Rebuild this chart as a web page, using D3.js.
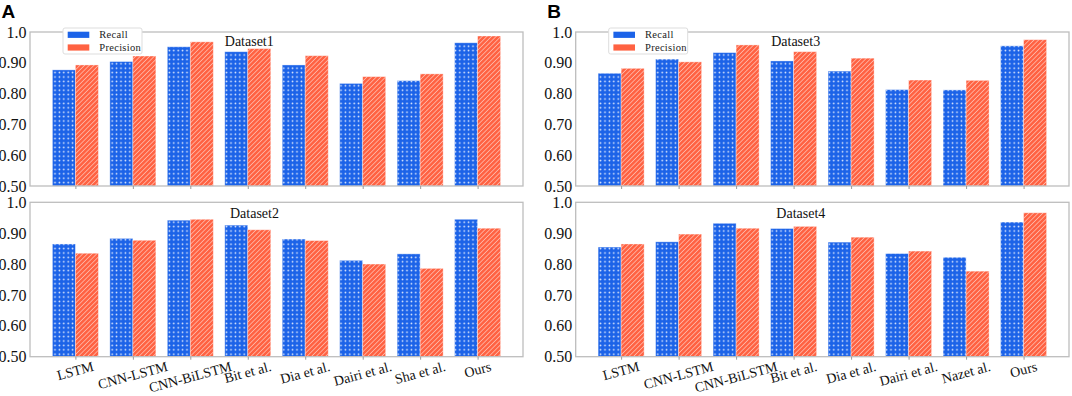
<!DOCTYPE html>
<html><head><meta charset="utf-8">
<script src="https://cdn.jsdelivr.net/npm/d3@7"></script>
<style>body{margin:0;background:#fff}svg{display:block}svg text{font-family:'Liberation Serif','Times New Roman',serif}svg text.letter{font-family:'Liberation Sans',Arial,sans-serif}</style>
</head><body>
<script>
// ---- data ----
const categoriesA = ["LSTM","CNN-LSTM","CNN-BiLSTM","Bit et al.","Dia et al.","Dairi et al.","Sha et al.","Ours"];
const categoriesB = ["LSTM","CNN-LSTM","CNN-BiLSTM","Bit et al.","Dia et al.","Dairi et al.","Nazet al.","Ours"];
const recall1    = [0.877,0.904,0.952,0.936,0.893,0.833,0.842,0.965];
const precision1 = [0.893,0.922,0.968,0.946,0.923,0.855,0.864,0.987];
const recall2    = [0.865,0.883,0.942,0.926,0.881,0.812,0.833,0.945];
const precision2 = [0.835,0.877,0.945,0.911,0.876,0.800,0.786,0.916];
const recall3    = [0.866,0.912,0.933,0.906,0.873,0.813,0.812,0.955];
const precision3 = [0.882,0.903,0.958,0.936,0.915,0.844,0.843,0.975];
const recall4    = [0.855,0.872,0.932,0.915,0.871,0.834,0.822,0.936];
const precision4 = [0.865,0.897,0.916,0.922,0.887,0.842,0.777,0.966];
const seriesNames = ["Recall","Precision"];
const datasetNames = ["Dataset1","Dataset2","Dataset3","Dataset4"];
const yTicks = [0.5,0.6,0.7,0.8,0.9,1.0];
const yTickLabels = ["0.50","0.60","0.70","0.80","0.90","1.0"];
const panelLetters = ["A","B"];

const BLUE = "#1c63e8", RED = "#ff6242";
const W = 1072, H = 396;
const svg = d3.select("body").append("svg").attr("width", W).attr("height", H);

const defs = svg.append("defs");
const dots = defs.append("pattern").attr("id","dots").attr("patternUnits","userSpaceOnUse")
  .attr("width",4.4).attr("height",4.4);
dots.append("circle").attr("cx",2.2).attr("cy",2.2).attr("r",0.85).attr("fill","#fff").attr("opacity",0.9);
const diag = defs.append("pattern").attr("id","diag").attr("patternUnits","userSpaceOnUse")
  .attr("width",3.3).attr("height",10).attr("patternTransform","rotate(45)");
diag.append("rect").attr("x",0).attr("y",0).attr("width",0.8).attr("height",10).attr("fill","#fff").attr("opacity",0.55);

const panels = [
  {x0:30, x1:523, y0:32, y1:186, cats:categoriesA, rec:recall1, pre:precision1, name:datasetNames[0], lx:2.6, ly:0.968, legend:true, letter:panelLetters[0], showX:false},
  {x0:30, x1:523, y0:202.3, y1:356.7, cats:categoriesA, rec:recall2, pre:precision2, name:datasetNames[1], lx:2.69, ly:0.965, legend:false, showX:true},
  {x0:575.7, x1:1069, y0:32, y1:186, cats:categoriesB, rec:recall3, pre:precision3, name:datasetNames[2], lx:2.61, ly:0.968, legend:true, letter:panelLetters[1], showX:false},
  {x0:575.7, x1:1069, y0:202.3, y1:356.7, cats:categoriesB, rec:recall4, pre:precision4, name:datasetNames[3], lx:2.70, ly:0.965, legend:false, showX:true}
];

const bw = 0.4;
panels.forEach(p => {
  const n = p.cats.length;
  const x = d3.scaleLinear().domain([-0.79, n - 1 + 0.79]).range([p.x0, p.x1]);
  const y = d3.scaleLinear().domain([0.5, 1.0]).range([p.y1, p.y0]);
  const g = svg.append("g");

  const rows = p.cats.map((c, i) => ({i, c, r: p.rec[i], q: p.pre[i]}));
  [["r", BLUE, "dots", -bw], ["q", RED, "diag", 0]].forEach(([k, col, pat, off]) => {
    const bars = g.selectAll(null).data(rows).enter();
    bars.append("rect")
      .attr("x", d => x(d.i + off)).attr("width", d => x(d.i + off + bw) - x(d.i + off))
      .attr("y", d => y(d[k])).attr("height", d => y(0.5) - y(d[k]))
      .attr("fill", col);
    bars.append("rect")
      .attr("x", d => x(d.i + off)).attr("width", d => x(d.i + off + bw) - x(d.i + off))
      .attr("y", d => y(d[k])).attr("height", d => y(0.5) - y(d[k]))
      .attr("fill", `url(#${pat})`)
      .attr("stroke", "rgba(255,255,255,0.45)").attr("stroke-width", 0.8);
  });

  g.append("rect").attr("x", p.x0).attr("y", p.y0).attr("width", p.x1 - p.x0).attr("height", p.y1 - p.y0)
    .attr("fill", "none").attr("stroke", "#bdbdbd").attr("stroke-width", 1.3);

  const yAxis = d3.axisLeft(y).tickValues(yTicks).tickFormat((d, i) => yTickLabels[i]).tickSize(0).tickPadding(3.5);
  const ya = g.append("g").attr("transform", `translate(${p.x0},0)`).call(yAxis)
    .attr("font-family", null).attr("font-size", null);
  ya.select(".domain").remove();
  ya.selectAll("text").style("font-size", "16px").attr("fill", "#111");

  const xAxis = d3.axisBottom(x).tickValues(d3.range(n)).tickSize(3).tickFormat("");
  const xa = g.append("g").attr("transform", `translate(0,${p.y1})`).call(xAxis);
  xa.select(".domain").remove();
  xa.selectAll("line").attr("stroke", "#9a9a9a");

  if (p.showX) {
    const fs = 14, ang = 15 * Math.PI / 180;
    g.selectAll(null).data(rows).enter().append("text")
      .text(d => d.c)
      .style("font-size", fs + "px").attr("fill", "#111")
      .attr("text-anchor", "middle").attr("dominant-baseline", "central")
      .each(function(d) {
        const w = this.getComputedTextLength();
        const bh = w * Math.sin(ang) + fs * 0.9 * Math.cos(ang);
        const cy = p.y1 + 3.5 + bh / 2;
        d3.select(this).attr("transform", `translate(${x(d.i)},${cy}) rotate(-15)`);
      });
  }

  g.append("text").attr("x", x(p.lx)).attr("y", y(p.ly)).attr("dominant-baseline", "central")
    .style("font-size", "14px").attr("fill", "#111").text(p.name);

  if (p.legend) {
    const lx = p.x0 + 33, ly = p.y0 - 4;
    const lg = g.append("g");
    lg.append("rect").attr("x", lx).attr("y", ly).attr("width", 79).attr("height", 26)
      .attr("rx", 2).attr("fill", "#fff").attr("stroke", "#dddddd").attr("stroke-width", 1);
    [[BLUE, seriesNames[0], 0], [RED, seriesNames[1], 1]].forEach(([c, t, k]) => {
      lg.append("rect").attr("x", lx + 4.7).attr("y", ly + 3.7 + k * 12.7).attr("width", 21.6).attr("height", 6.2).attr("fill", c);
      lg.append("text").attr("x", lx + 36.3).attr("y", ly + 6.8 + k * 12.9).attr("dominant-baseline", "central")
        .style("font-size", "10.5px").attr("letter-spacing", 0.3).attr("fill", "#222").text(t);
    });
  }

  if (p.letter) {
    svg.append("text").attr("class", "letter").attr("x", p.x0 - 28.5).attr("y", 18)
      .attr("font-weight", "bold").style("font-size", "19px").attr("fill", "#000").text(p.letter);
  }
});
</script>
</body></html>
